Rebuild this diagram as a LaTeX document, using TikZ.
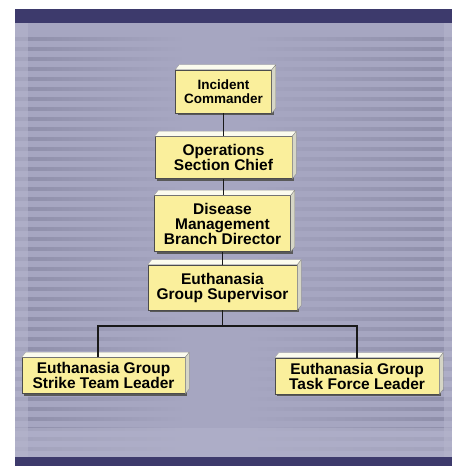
\documentclass[tikz,border=0pt]{standalone}
\usepackage{fontspec}
\setmainfont{Liberation Sans}
\usetikzlibrary{calc,shadows}
\definecolor{bg}{HTML}{A6A6C1}
\definecolor{stripe}{HTML}{8E8EA9}
\definecolor{band}{HTML}{3D3A6C}
\definecolor{lightbg}{HTML}{B4B4CC}
\definecolor{boxfill}{HTML}{FAEF9C}
\definecolor{bevtop}{HTML}{FBFBEE}
\definecolor{bevside}{HTML}{D6D6C6}
\tikzset{
  orgbox/.style={draw=black!70, line width=0.6pt, fill=boxfill, align=center,
    font=\bfseries\fontsize{15.5}{15}\selectfont, inner sep=0pt,
    drop shadow={shadow xshift=2pt, shadow yshift=-2pt, fill=black!65, opacity=1}},
  conn/.style={draw=black!90, line width=1.3pt},
}
\newcommand{\bevelbox}[1]{%
  \fill[bevtop,draw=black!40,line width=0.3pt] (#1.north west) -- ++(4,-5) -- ($(#1.north east)+(4,-5)$) -- (#1.north east) -- cycle;
  \fill[bevside,draw=black!50,line width=0.3pt] (#1.north east) -- ++(4,-5) -- ($(#1.south east)+(4,-5)$) -- (#1.south east) -- cycle;
}
\begin{document}
\begin{tikzpicture}[x=1pt,y=-1pt]
\useasboundingbox (0,0) rectangle (452,466);
\fill[white] (0,0) rectangle (452,466);
% panel
\fill[bg] (15,23) rectangle (452,457);
\foreach \y in {37,47,...,447} {
  \shade[left color=stripe, right color=bg] (15,\y) rectangle (185,\y+3);
  \shade[left color=bg, right color=stripe] (245,\y) rectangle (452,\y+3);
}
\fill[lightbg, opacity=0.6] (15,23) rectangle (28,457);
\fill[lightbg, opacity=0.6] (444,23) rectangle (452,457);
\fill[lightbg, opacity=0.55] (15,428) rectangle (452,457);
\fill[band] (15,9) rectangle (452,23);
\fill[band] (15,457) rectangle (452,466);
% boxes
\node[orgbox, minimum width=96, minimum height=43, font=\bfseries\fontsize{13.5}{14}\selectfont] (ic) at (223.5,91.5) {Incident\\Commander};
\node[orgbox, minimum width=137, minimum height=42] (osc) at (223.5,157.5) {Operations\\Section Chief};
\node[orgbox, minimum width=136, minimum height=56] (dmb) at (222.5,223.5) {Disease\\Management\\Branch Director};
\node[orgbox, minimum width=149, minimum height=45] (egs) at (222.5,287.5) {Euthanasia\\Group Supervisor};
\node[orgbox, minimum width=163, minimum height=36] (stl) at (103.5,375.5) {Euthanasia Group\\Strike Team Leader};
\node[orgbox, minimum width=164, minimum height=36] (tfl) at (357,376) {Euthanasia Group\\Task Force Leader};
\foreach \n in {ic,osc,dmb,egs,stl,tfl} {\bevelbox{\n}}
% connectors
\coordinate (jl) at (98,326);
\coordinate (jr) at (357,326);
\draw[conn] (ic.south) -- (osc.north);
\draw[conn] (osc.south) -- (osc.south |- dmb.north);
\draw[conn] (dmb.south) -- (egs.north);
\draw[conn] (egs.south) -- (egs.south |- jl);
\draw[conn] (jl |- stl.north) -- (jl) -- (jr) -- (tfl.north);
\end{tikzpicture}
\end{document}
